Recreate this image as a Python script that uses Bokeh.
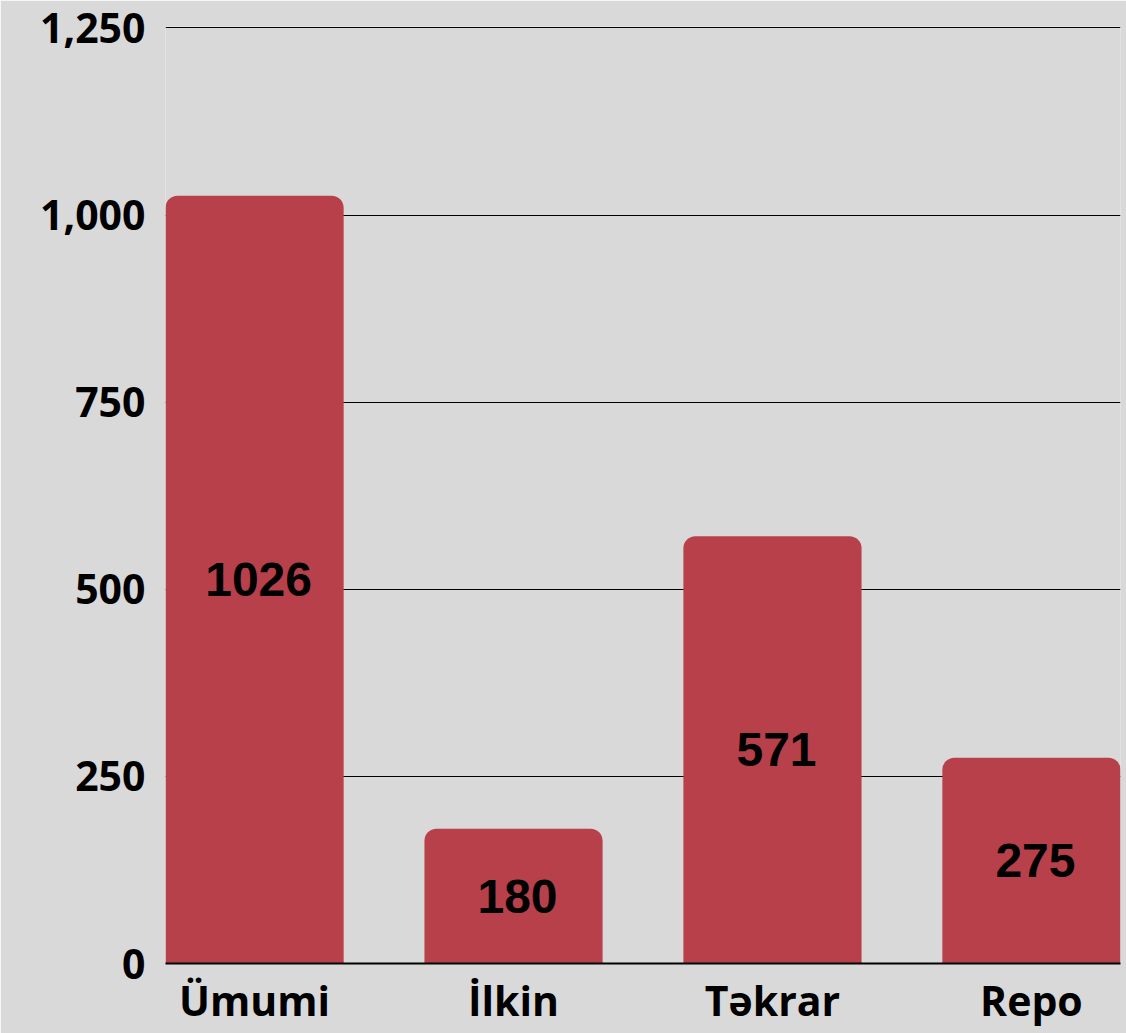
from bokeh.plotting import figure
from bokeh.models import ColumnDataSource, FixedTicker, NumeralTickFormatter, Range1d
from bokeh.core.properties import value
from bokeh.embed import file_html
from bokeh.resources import INLINE

categories = ["Ümumi", "İlkin", "Təkrar", "Repo"]
counts = [1026, 180, 571, 275]
y_ticks = [0, 250, 500, 750, 1000, 1250]

xs = list(range(len(categories)))
src = ColumnDataSource(dict(
    x=xs,
    top=counts,
    mid=[c / 2 for c in counts],
    label=[str(c) for c in counts],
))

p = figure(width=1126, height=1033, output_backend="svg", toolbar_location=None,
           x_range=Range1d(-0.344, 3.344), y_range=Range1d(0, 1252),
           min_border_left=165, min_border_right=6, min_border_top=26, min_border_bottom=70)

p.background_fill_color = "#d9d9d9"
p.border_fill_color = "#d9d9d9"
p.outline_line_color = None

p.vbar(x="x", top="top", width=0.688, source=src, fill_color="#b8404a",
       line_color=None, border_radius=(12, 12, 0, 0))

p.text(x="x", y="mid", text="label", source=src, text_align="center",
       text_baseline="middle", text_font=value("Liberation Sans"),
       text_font_style="bold", text_font_size="48px", text_color="black",
       x_offset=4)

p.xaxis.ticker = FixedTicker(ticks=xs)
p.xaxis.major_label_overrides = {i: c for i, c in enumerate(categories)}
p.xaxis.axis_line_color = "black"
p.xaxis.axis_line_width = 2
p.xaxis.major_tick_line_color = None
p.xaxis.minor_tick_line_color = None
p.xaxis.major_tick_out = 0
p.xaxis.major_label_standoff = 8
p.xaxis.major_label_text_font = "Open Sans"
p.xaxis.major_label_text_font_style = "bold"
p.xaxis.major_label_text_font_size = "41px"
p.xaxis.major_label_text_color = "black"
p.xgrid.grid_line_color = None

p.yaxis.ticker = FixedTicker(ticks=y_ticks)
p.yaxis.formatter = NumeralTickFormatter(format="0,0")
p.yaxis.axis_line_color = None
p.yaxis.major_tick_line_color = None
p.yaxis.minor_tick_line_color = None
p.yaxis.major_tick_out = 0
p.yaxis.major_label_standoff = 20
p.yaxis.major_label_text_font = "Open Sans"
p.yaxis.major_label_text_font_style = "bold"
p.yaxis.major_label_text_font_size = "41px"
p.yaxis.major_label_text_color = "black"
p.ygrid.grid_line_color = "black"
p.ygrid.grid_line_width = 1

open("out.html", "w").write(file_html(p, INLINE))
